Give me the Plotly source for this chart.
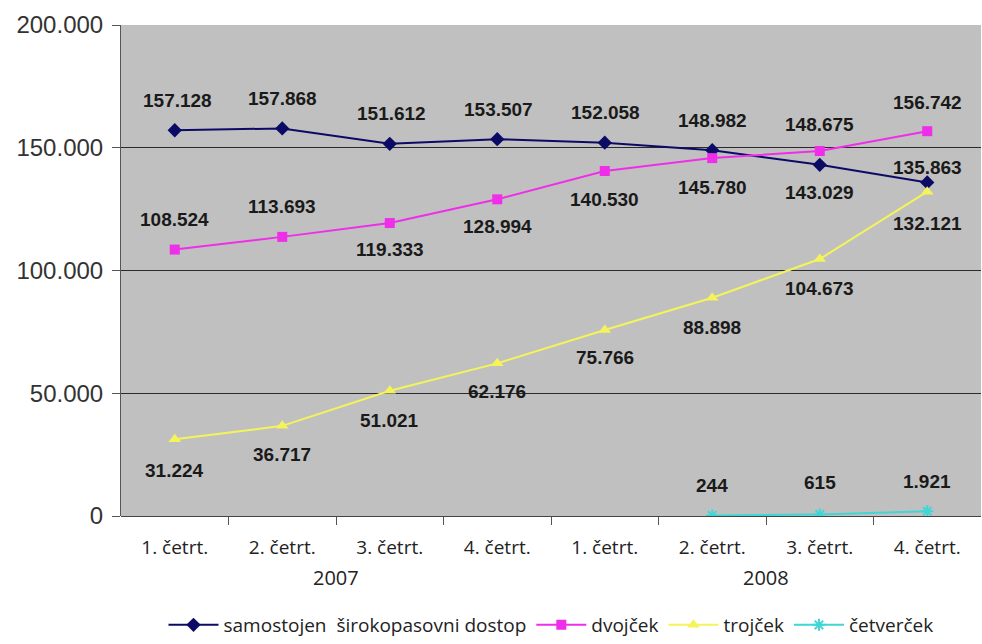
import plotly.graph_objects as go

# Quarterly subscriber counts, 2007–2008
quarters = ["1. četrt.", "2. četrt.", "3. četrt.", "4. četrt.",
            "1. četrt.", "2. četrt.", "3. četrt.", "4. četrt."]
years = ["2007", "2008"]

samostojen = [157128, 157868, 151612, 153507, 152058, 148982, 143029, 135863]
dvojcek = [108524, 113693, 119333, 128994, 140530, 145780, 148675, 156742]
trojcek = [31224, 36717, 51021, 62176, 75766, 88898, 104673, 132121]
cetvercek = [None, None, None, None, None, 244, 615, 1921]

y_ticks = [0, 50000, 100000, 150000, 200000]
y_ticktext = ["0", "50.000", "100.000", "150.000", "200.000"]

x = list(range(len(quarters)))


def fmt(v):
    return f"{v:,}".replace(",", ".")


series = [
    dict(name="samostojen  širokopasovni dostop", y=samostojen, color="#0b0b66",
         symbol="diamond", size=11,
         label_dy=[30, 30, 30, 30, 30, 30, -28, 15], label_dx=[3, 0, 2, 1, 1, 0, 0, 0]),
    dict(name="dvojček", y=dvojcek, color="#ee2ee8",
         symbol="square", size=10,
         label_dy=[30, 30, -26, -27, -28, -29, 27, 29], label_dx=[0, 0, 0, 0, 0, 0, 0, 0]),
    dict(name="trojček", y=trojcek, color="#f4f45a",
         symbol="triangle-up", size=11,
         label_dy=[-31, -29, -30, -28, -28, -30, -29, -32], label_dx=[0, 0, 0, 0, 0, 0, 0, 0]),
    dict(name="četverček", y=cetvercek, color="#3fd6d6",
         symbol="asterisk-open", size=10,
         label_dy=[0, 0, 0, 0, 0, 30, 32, 30], label_dx=[0, 0, 0, 0, 0, 0, 0, 0]),
]

fig = go.Figure()
annotations = []
for s in series:
    fig.add_trace(go.Scatter(
        x=x, y=s["y"], name=s["name"], mode="lines+markers",
        line=dict(color=s["color"], width=2),
        marker=dict(symbol=s["symbol"], size=s["size"], color=s["color"],
                    line=dict(color=s["color"], width=2 if "asterisk" in s["symbol"] else 0)),
        connectgaps=False,
    ))
    for i, v in enumerate(s["y"]):
        if v is None:
            continue
        annotations.append(dict(
            x=i, y=v, xref="x", yref="y", text=fmt(v), showarrow=False,
            xshift=s["label_dx"][i], yshift=s["label_dy"][i],
            font=dict(family="Liberation Sans, Arial, sans-serif", size=19,
                      color="#1a1a1a", weight="bold"),
        ))

# Year labels under each group of four quarters
for k, yr in enumerate(years):
    annotations.append(dict(
        x=1.5 + 4 * k, y=-0.126, xref="x", yref="paper", text=yr, showarrow=False,
        yanchor="middle",
        font=dict(family="Open Sans, sans-serif", size=20, color="#222222"),
    ))

fig.update_layout(
    width=982, height=644,
    margin=dict(l=121, r=1, t=25, b=128, autoexpand=False),
    paper_bgcolor="white",
    plot_bgcolor="#c0c0c0",
    showlegend=True,
    legend=dict(orientation="h", x=0.5, xanchor="center",
                yref="container", y=0, yanchor="bottom",
                font=dict(family="Open Sans, sans-serif", size=19, color="#222222"),
                itemwidth=50, tracegroupgap=0, bgcolor="rgba(0,0,0,0)"),
    annotations=annotations,
    xaxis=dict(
        range=[-0.5, 7.5], tickmode="array", tickvals=x, ticktext=quarters,
        ticks="", showgrid=False, zeroline=False, showline=False,
        automargin=False, ticklabelstandoff=18,
        tickfont=dict(family="Open Sans, sans-serif", size=19, color="#222222"),
        minor=dict(tickmode="array", tickvals=[i + 0.5 for i in range(7)],
                   ticks="outside", ticklen=8, tickcolor="#555555", tickwidth=1,
                   showgrid=False),
    ),
    yaxis=dict(
        range=[0, 200000], tickmode="array", tickvals=y_ticks, ticktext=y_ticktext,
        ticks="outside", ticklen=8, tickcolor="#555555",
        showgrid=True, gridcolor="#2a2a2a", gridwidth=1,
        zeroline=True, zerolinecolor="#444444", zerolinewidth=1,
        showline=True, linecolor="#555555", linewidth=1,
        automargin=False, ticklabelstandoff=4,
        tickfont=dict(family="Liberation Sans, Arial, sans-serif", size=24, color="#333333"),
    ),
)

fig.write_html("out.html")
